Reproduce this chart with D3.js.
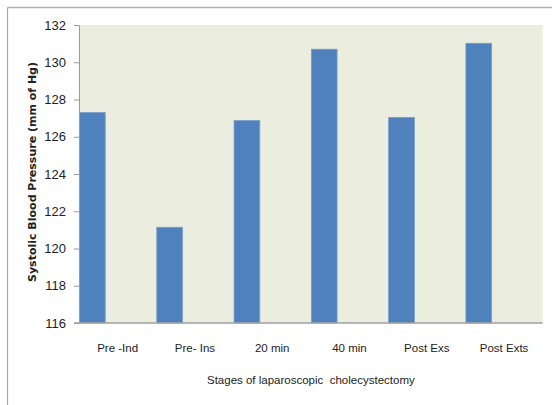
<!DOCTYPE html>
<html><head><meta charset="utf-8">
<script src="https://cdn.jsdelivr.net/npm/d3@7"></script>
<style>body{margin:0;background:#fff;}svg{display:block;}</style>
</head><body>
<svg id="c" width="552" height="405"></svg>
<script>
const categories = ["Pre -Ind","Pre- Ins","20 min","40 min","Post Exs","Post Exts"];
const values = [127.3, 121.14, 126.87, 130.7, 127.04, 131.02];
const yTicks = [116,118,120,122,124,126,128,130,132];
const yTitle = "Systolic Blood Pressure (mm of Hg)";
const xTitle = "Stages of laparoscopic  cholecystectomy";

const svg = d3.select("#c");
const L = 79, R = 542.7, T = 25, B = 323;

// outer border (top and left)
svg.append("line").attr("x1",7.5).attr("x2",552).attr("y1",7.5).attr("y2",7.5).attr("stroke","#b0b0b0").attr("stroke-width",1.5);
svg.append("line").attr("x1",7.5).attr("x2",7.5).attr("y1",7.5).attr("y2",405).attr("stroke","#a8a8a8").attr("stroke-width",1.2);

const x = d3.scaleBand().domain(categories).range([L,R]).padding(0);
const y = d3.scaleLinear().domain([116,132]).range([B,T]);

svg.append("rect").attr("x",L).attr("y",T).attr("width",R-L).attr("height",B-T).attr("fill","#ebeedf");

svg.selectAll("rect.bar").data(values).enter().append("rect").attr("class","bar")
  .attr("x",(d,i)=>x(categories[i])+0.5)
  .attr("width",x.bandwidth()*0.333)
  .attr("y",d=>y(d))
  .attr("height",d=>B-y(d))
  .attr("fill","#4f81bd").attr("stroke","#7b9dcc").attr("stroke-width",0.8);

const yAxis = d3.axisLeft(y).tickValues(yTicks).tickSize(5).tickPadding(8).tickFormat(d3.format("d"));
const gy = svg.append("g").attr("transform",`translate(${L},0)`).call(yAxis);
gy.select(".domain").attr("stroke","#9a9a9a").attr("stroke-width",1);
gy.selectAll(".tick line").attr("stroke","#9a9a9a");
gy.selectAll(".tick text").attr("font-family","Liberation Sans, Arial, sans-serif").attr("font-size",13).attr("fill","#222");

const xAxis = d3.axisBottom(x).tickSize(0).tickPadding(21);
const gx = svg.append("g").attr("transform",`translate(0,${B})`).call(xAxis);
gx.select(".domain").attr("stroke","#a0a0a0").attr("stroke-width",1.5).attr("d",`M${L-5},0H${R}`);
gx.selectAll(".tick text").attr("font-family","Liberation Sans, Arial, sans-serif").attr("font-size",11.5).attr("fill","#222");

svg.append("text").attr("x",(L+R)/2).attr("y",384).attr("text-anchor","middle").style("white-space","pre")
  .attr("font-family","Liberation Sans, Arial, sans-serif").attr("font-size",11.5).attr("fill","#222").text(xTitle);

svg.append("text").attr("transform",`translate(36,172) rotate(-90)`).attr("text-anchor","middle")
  .attr("font-family","DejaVu Sans, Verdana, sans-serif").attr("font-weight","bold").attr("font-size",11).attr("fill","#222").text(yTitle);
</script>
</body></html>
